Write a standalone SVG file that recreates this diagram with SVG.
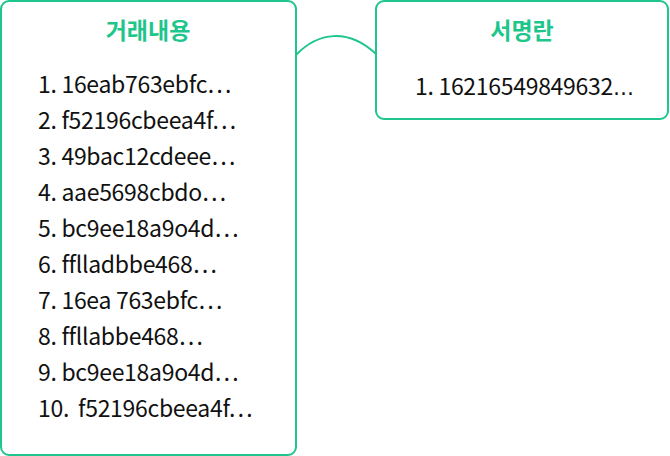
<svg xmlns="http://www.w3.org/2000/svg" width="670" height="456" viewBox="0 0 670 456">
<style>
.box{fill:#fff;stroke:#1ec68b;stroke-width:2}
.title{font-family:"Noto Sans CJK KR","Noto Sans",sans-serif;font-size:23px;font-weight:bold;fill:#1ec68b;text-anchor:middle}
.item{font-family:"Noto Sans CJK KR","Noto Sans",sans-serif;font-size:23px;fill:#111;letter-spacing:-0.3px}
.el{font-family:"DejaVu Sans",sans-serif;font-size:21px}
.conn{fill:none;stroke:#1ec68b;stroke-width:2}
</style>
<rect width="670" height="456" fill="#fff"/>
<g id="connectors">
<path class="conn" d="M296,55 C318,32 348,28 376,54"/>
</g>
<g id="node-transactions">
<rect class="box" x="1" y="1" width="295" height="454" rx="8"/>
<text class="title" x="148" y="39">거래내용</text>
<text class="item" x="38" y="93">1. 16eab763ebfc…</text>
<text class="item" x="38" y="129">2. f52196cbeea4f…</text>
<text class="item" x="38" y="165">3. 49bac12cdeee…</text>
<text class="item" x="38" y="201">4. aae5698cbdo…</text>
<text class="item" x="38" y="237">5. bc9ee18a9o4d…</text>
<text class="item" x="38" y="273">6. fflladbbe468…</text>
<text class="item" x="38" y="309">7. 16ea 763ebfc…</text>
<text class="item" x="38" y="345">8. ffllabbe468…</text>
<text class="item" x="38" y="381">9. bc9ee18a9o4d…</text>
<text class="item" x="38" y="417">10.<tspan x="78">f52196cbeea4f…</tspan></text>
</g>
<g id="node-signature">
<rect class="box" x="376" y="1" width="292" height="118" rx="8"/>
<text class="title" x="522" y="39">서명란</text>
<text class="item" x="415" y="95">1. 16216549849632<tspan class="el">…</tspan></text>
</g>
</svg>
